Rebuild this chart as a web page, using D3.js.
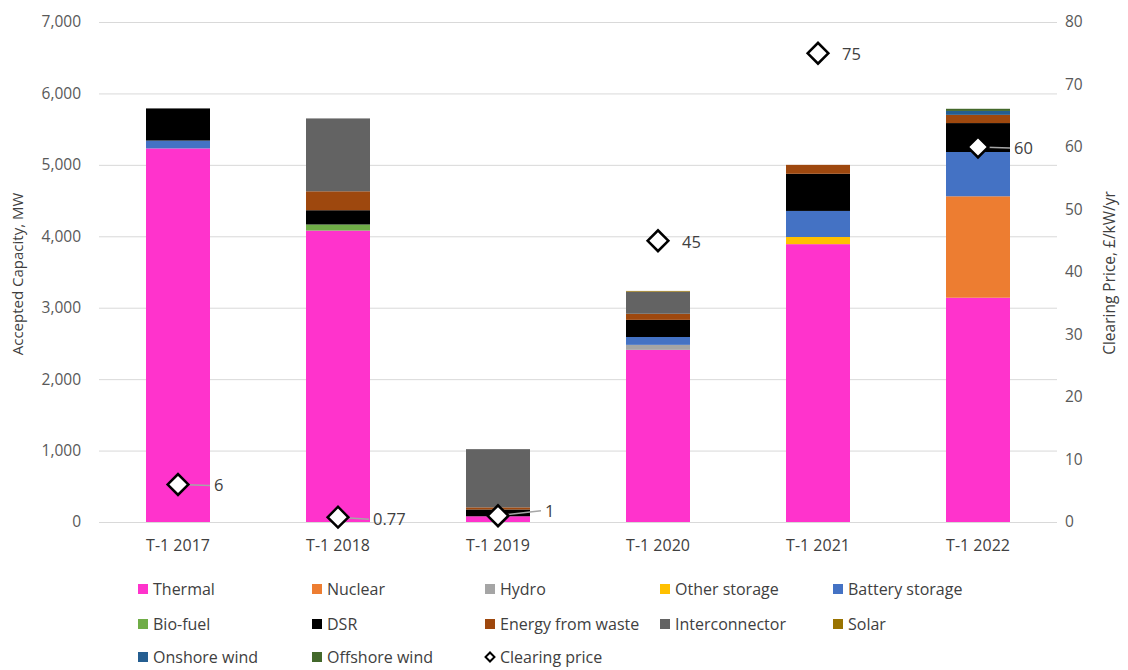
<!DOCTYPE html>
<html>
<head>
<meta charset="utf-8">
<script src="https://cdn.jsdelivr.net/npm/d3@7"></script>
<style>
  html, body { margin: 0; padding: 0; background: #fff; }
  svg { display: block; font-family: "Open Sans", "Liberation Sans", sans-serif; }
</style>
</head>
<body>
<svg id="chart" width="1128" height="670"></svg>
<script>
// Capacity market T-1 auctions: accepted capacity by technology (MW) and clearing price (£/kW/yr)
const auctions = ["T-1 2017", "T-1 2018", "T-1 2019", "T-1 2020", "T-1 2021", "T-1 2022"];

const thermal        = [5230, 4080,  80, 2410, 3890, 3140];
const nuclear        = [   0,    0,   0,    0,    0, 1420];
const hydro          = [   0,    0,   0,   70,    0,    0];
const otherStorage   = [   0,    0,   0,    0,  100,    0];
const batteryStorage = [ 110,    0,   0,  110,  365,  620];
const bioFuel        = [   0,   85,   0,    0,    0,    0];
const dsr            = [ 450,  200,  95,  240,  520,  405];
const energyFromWaste= [   0,  265,  30,   85,  125,  115];
const interconnector = [   0, 1020, 815,  310,    0,    0];
const solar          = [   0,    0,   0,   10,    0,    0];
const onshoreWind    = [   0,    0,   0,    0,    0,   55];
const offshoreWind   = [   0,    0,   0,    0,    0,   30];

const clearingPrice  = [6, 0.77, 1, 45, 75, 60];
const priceLabels    = ["6", "0.77", "1", "45", "75", "60"];

const leftTicks  = [0, 1000, 2000, 3000, 4000, 5000, 6000, 7000];
const rightTicks = [0, 10, 20, 30, 40, 50, 60, 70, 80];

const seriesNames = ["Thermal", "Nuclear", "Hydro", "Other storage", "Battery storage",
  "Bio-fuel", "DSR", "Energy from waste", "Interconnector", "Solar", "Onshore wind", "Offshore wind"];
const seriesValues = [thermal, nuclear, hydro, otherStorage, batteryStorage,
  bioFuel, dsr, energyFromWaste, interconnector, solar, onshoreWind, offshoreWind];
const seriesColors = ["#ff33cc", "#ed7d31", "#a5a5a5", "#ffc000", "#4472c4",
  "#70ad47", "#000000", "#9e480e", "#636363", "#997300", "#255e91", "#43682b"];

// Table for d3.stack
const rows = auctions.map((a, i) => {
  const r = { auction: a };
  seriesNames.forEach((s, k) => { r[s] = seriesValues[k][i]; });
  return r;
});

const svg = d3.select("#chart");
const plot = { left: 98, right: 1058, top: 22, bottom: 522 };

const x = d3.scaleBand().domain(auctions).range([plot.left, plot.right])
  .paddingInner(0.6).paddingOuter(0.3);
const yL = d3.scaleLinear().domain([0, 7000]).range([plot.bottom, plot.top]);
const yR = d3.scaleLinear().domain([0, 80]).range([plot.bottom, plot.top]);

const textColor = "#595959";

// Gridlines + left axis
const leftAxis = d3.axisLeft(yL).tickValues(leftTicks).tickFormat(d3.format(","))
  .tickSize(-(plot.right - plot.left - 2)).tickPadding(18);
const gL = svg.append("g").attr("transform", `translate(${plot.left + 1},0)`).call(leftAxis);
gL.select(".domain").remove();
gL.selectAll(".tick line").attr("stroke", "#d9d9d9").attr("stroke-width", 1);
gL.selectAll(".tick text").attr("fill", textColor).style("font-size", "15.5px")
  .style("font-family", "Open Sans, sans-serif");

// Right axis
const rightAxis = d3.axisRight(yR).tickValues(rightTicks).tickSize(0).tickPadding(7);
const gR = svg.append("g").attr("transform", `translate(${plot.right},0)`).call(rightAxis);
gR.select(".domain").remove();
gR.selectAll(".tick text").attr("fill", textColor).style("font-size", "15.5px")
  .style("font-family", "Open Sans, sans-serif");

// Category axis
const bottomAxis = d3.axisBottom(x).tickSize(0).tickPadding(18);
const gB = svg.append("g").attr("transform", `translate(0,${plot.bottom})`).call(bottomAxis);
gB.select(".domain").remove();
gB.selectAll(".tick text").attr("fill", "#404040").style("font-size", "16px")
  .style("font-family", "Open Sans, sans-serif");

// Axis titles
svg.append("text")
  .attr("transform", `translate(23,${(plot.top + plot.bottom) / 2 + 2}) rotate(-90)`)
  .attr("text-anchor", "middle").attr("fill", "#404040")
  .style("font-size", "15px").text("Accepted Capacity, MW");
svg.append("text")
  .attr("transform", `translate(1115,${(plot.top + plot.bottom) / 2 + 1}) rotate(-90)`)
  .attr("text-anchor", "middle").attr("fill", "#404040")
  .style("font-size", "15.5px").text("Clearing Price, £/kW/yr");

// Stacked bars
const stacked = d3.stack().keys(seriesNames)(rows);
svg.append("g").selectAll("g").data(stacked).join("g")
  .attr("fill", (d, i) => seriesColors[i])
  .selectAll("rect").data(d => d).join("rect")
  .attr("x", d => x(d.data.auction))
  .attr("width", x.bandwidth())
  .attr("y", d => yL(d[1]))
  .attr("height", d => Math.max(0, yL(d[0]) - yL(d[1])));

// Clearing price labels with leader lines
const labelOffsets = [
  { dx: 36, dy: 1, leader: true },
  { dx: 35, dy: 2, leader: true },
  { dx: 47, dy: -5, leader: true },
  { dx: 24, dy: 1, leader: false },
  { dx: 24, dy: 1, leader: false },
  { dx: 36, dy: 1, leader: true }
];
const cx = a => x(a) + x.bandwidth() / 2;
const gP = svg.append("g");
auctions.forEach((a, i) => {
  const px = cx(a), py = yR(clearingPrice[i]);
  const o = labelOffsets[i];
  if (o.leader) {
    gP.append("line").attr("x1", px).attr("y1", py)
      .attr("x2", px + o.dx - 4).attr("y2", py + o.dy)
      .attr("stroke", "#a6a6a6").attr("stroke-width", 1.5);
  }
  gP.append("text").attr("x", px + o.dx).attr("y", py + o.dy)
    .attr("dy", "0.35em").attr("fill", "#404040")
    .style("font-size", "16.5px").text(priceLabels[i]);
});

// Clearing price markers
const diamond = d3.symbol().type(d3.symbolSquare).size(215);
svg.append("g").selectAll("path").data(auctions).join("path")
  .attr("d", diamond)
  .attr("transform", (a, i) => `translate(${cx(a)},${yR(clearingPrice[i])}) rotate(45)`)
  .attr("fill", "#fff").attr("stroke", "#000").attr("stroke-width", 2.5);

// Legend
const legendItems = seriesNames.map((s, i) => ({ name: s, color: seriesColors[i], type: "rect" }))
  .concat([{ name: "Clearing price", type: "diamond" }]);
const legendCols = [138, 312, 485, 660, 833];
const legendRows = [589, 624, 657];
const gLeg = svg.append("g");
legendItems.forEach((item, i) => {
  const lx = legendCols[i % 5], ly = legendRows[Math.floor(i / 5)];
  if (item.type === "rect") {
    gLeg.append("rect").attr("x", lx).attr("y", ly - 5).attr("width", 10).attr("height", 10)
      .attr("fill", item.color);
  } else {
    gLeg.append("path").attr("d", d3.symbol().type(d3.symbolSquare).size(40))
      .attr("transform", `translate(${lx + 5},${ly}) rotate(45)`)
      .attr("fill", "#fff").attr("stroke", "#000").attr("stroke-width", 2);
  }
  gLeg.append("text").attr("x", lx + 15).attr("y", ly).attr("dy", "0.35em")
    .attr("fill", "#404040").style("font-size", "16px").text(item.name);
});
</script>
</body>
</html>
